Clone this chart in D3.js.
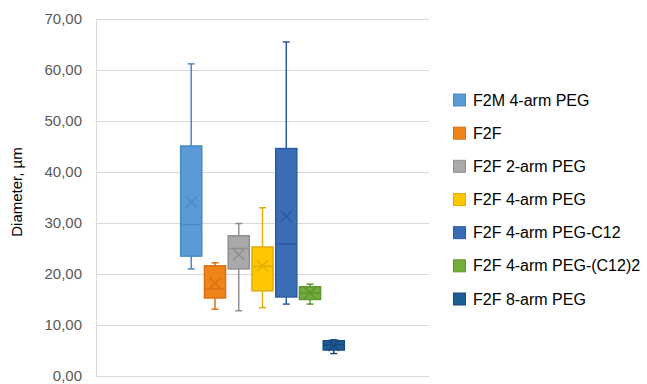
<!DOCTYPE html>
<html><head><meta charset="utf-8">
<script src="https://cdn.jsdelivr.net/npm/d3@7"></script>
<style>body{margin:0;background:#fff}svg{display:block}text{font-family:"Liberation Sans",Arial,sans-serif}</style>
</head><body>
<svg id="c" width="647" height="384"></svg>
<script>
const categories = [""];
const seriesNames = ["F2M 4-arm PEG","F2F","F2F 2-arm PEG","F2F 4-arm PEG","F2F 4-arm PEG-C12","F2F 4-arm PEG-(C12)2","F2F 8-arm PEG"];
const whiskerLow  = [21.0, 13.1, 12.8, 13.4, 14.1, 14.1, 4.4];
const q1Values    = [23.5, 15.3, 21.0, 16.7, 15.5, 15.0, 5.1];
const medianValues= [29.7, 17.1, 25.0, 21.5, 25.9, 16.3, 6.1];
const q3Values    = [45.1, 21.6, 27.5, 25.3, 44.6, 17.5, 6.9];
const whiskerHigh = [61.2, 22.2, 29.9, 33.0, 65.5, 18.0, 7.1];
const meanValues  = [34.1, 18.2, 23.8, 21.6, 31.3, 16.3, 6.0];
const yTicks = [0,10,20,30,40,50,60,70];
const fillColors  = ["#5b9bd5","#ef8419","#a9a9a9","#ffc700","#3a6db6","#72ac3a","#1f5d97"];
const strokeColors= ["#4a88c2","#d96f12","#909090","#e3ac00","#2a5ba3","#5e9630","#174a7c"];

const svg = d3.select("#c");
const L=96, R=429, T=19, B=376;
const y = d3.scaleLinear().domain([0,70]).range([B,T]);
const x0 = d3.scaleBand().domain(categories).range([L,R]).paddingOuter(0.494).paddingInner(0);
const x1 = d3.scaleBand().domain(seriesNames).range([0,x0.bandwidth()]).padding(0.05);

// gridlines
svg.append("g").selectAll("line").data(yTicks).join("line")
  .attr("x1",L).attr("x2",R).attr("y1",d=>y(d)+0.5).attr("y2",d=>y(d)+0.5)
  .attr("stroke","#d9d9d9").attr("stroke-width",1);
svg.append("line").attr("x1",L+0.5).attr("x2",L+0.5).attr("y1",T).attr("y2",B)
  .attr("stroke","#d9d9d9");

// y axis labels
const fmt = d => d3.format(".2f")(d).replace(".",",");
svg.append("g").selectAll("text").data(yTicks).join("text")
  .attr("x",82).attr("y",d=>y(d)).attr("dy","0.35em").attr("text-anchor","end")
  .attr("font-size",15).attr("fill","#595959").text(fmt);

svg.append("text").attr("transform","translate(22,192) rotate(-90)")
  .attr("text-anchor","middle").attr("font-size",15).attr("fill","#000").text("Diameter, µm");

// boxes
const data = seriesNames.map((s,i)=>({s,i,lo:whiskerLow[i],q1:q1Values[i],med:medianValues[i],q3:q3Values[i],hi:whiskerHigh[i],mean:meanValues[i]}));
const g = svg.append("g").attr("transform",`translate(${x0(categories[0])},0)`);
const bw = x1.bandwidth();
data.forEach(d=>{
  const xl = x1(d.s), cx = xl+bw/2, col=strokeColors[d.i];
  const gg = g.append("g");
  gg.append("line").attr("x1",cx).attr("x2",cx).attr("y1",y(d.hi)).attr("y2",y(d.q3)).attr("stroke",col).attr("stroke-width",1.5);
  gg.append("line").attr("x1",cx).attr("x2",cx).attr("y1",y(d.q1)).attr("y2",y(d.lo)).attr("stroke",col).attr("stroke-width",1.5);
  [d.hi,d.lo].forEach(v=>gg.append("line").attr("x1",cx-3.5).attr("x2",cx+3.5).attr("y1",y(v)).attr("y2",y(v)).attr("stroke",col).attr("stroke-width",1.5));
  gg.append("rect").attr("x",xl+0.75).attr("y",y(d.q3)).attr("width",bw-1.5).attr("height",y(d.q1)-y(d.q3))
    .attr("fill",fillColors[d.i]).attr("stroke",col).attr("stroke-width",1.5);
  gg.append("line").attr("x1",xl+0.75).attr("x2",xl+bw-0.75).attr("y1",y(d.med)).attr("y2",y(d.med)).attr("stroke",col).attr("stroke-width",1.5);
  const my=y(d.mean), s=5.5;
  gg.append("path").attr("d",`M${cx-s},${my-s}L${cx+s},${my+s}M${cx-s},${my+s}L${cx+s},${my-s}`)
    .attr("stroke",col).attr("stroke-width",1.5).attr("fill","none");
});

// legend
const lg = svg.append("g").attr("transform","translate(453,0)");
const ly = d3.scaleLinear().domain([0,6]).range([100,299]);
seriesNames.forEach((s,i)=>{
  lg.append("rect").attr("x",0.5).attr("y",ly(i)-6).attr("width",12).attr("height",12)
    .attr("fill",fillColors[i]).attr("stroke",strokeColors[i]).attr("stroke-width",1);
  lg.append("text").attr("x",20).attr("y",ly(i)).attr("dy","0.35em").attr("font-size",16).attr("fill","#000").text(s);
});
</script>
</body></html>
